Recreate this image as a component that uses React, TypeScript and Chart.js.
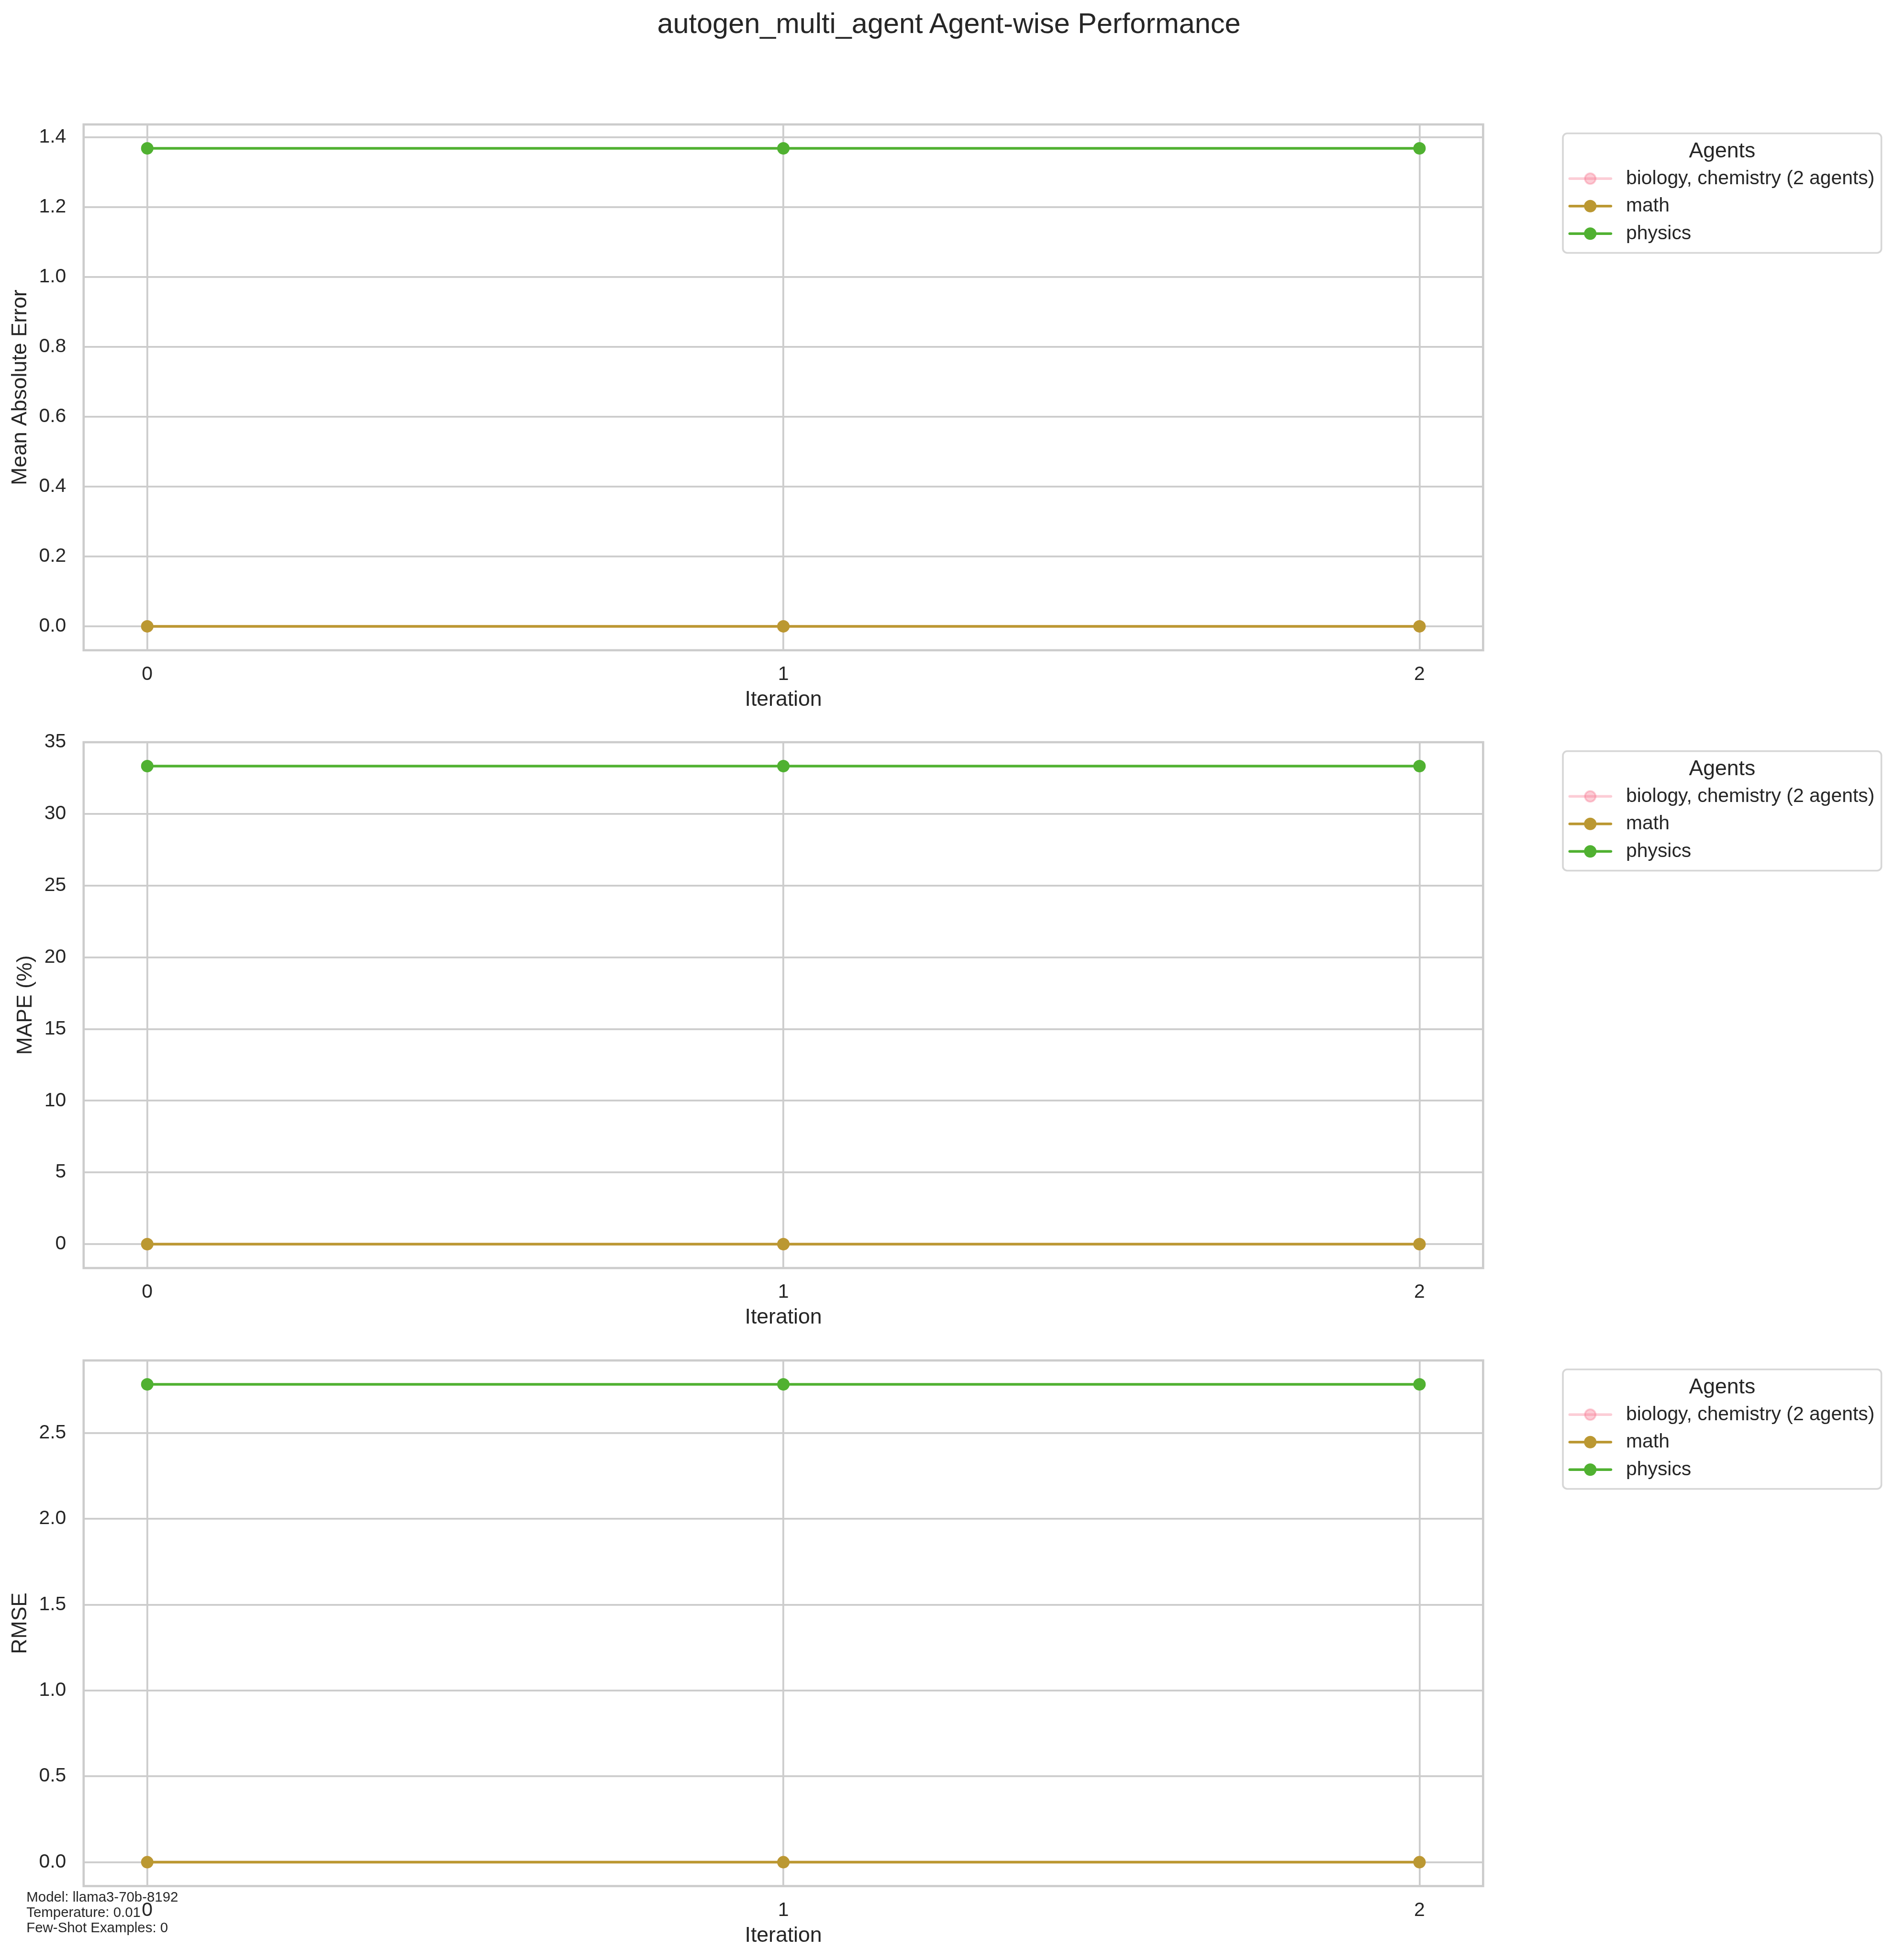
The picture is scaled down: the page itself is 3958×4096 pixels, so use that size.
import React, { useEffect, useRef } from "react";
import { Chart, registerables } from "chart.js";

Chart.register(...registerables);

// ---------- scale & style ----------
const S = 3958 / 4439;
const W = 3958;
const FONT = "'Liberation Sans', Arial, Helvetica, sans-serif";
const TEXT = "#262626";
const GRID = "#cccccc";

// ---------- data ----------
const iterations = [0, 1, 2];
const agents = ["biology, chemistry (2 agents)", "math", "physics"];
const agentColors = ["rgba(247,113,137,0.35)", "#bb9832", "#50b131"];

const maeBiology = [0, 0, 0];
const maeMath = [0, 0, 0];
const maePhysics = [1.368, 1.368, 1.368];

const mapeBiology = [0, 0, 0];
const mapeMath = [0, 0, 0];
const mapePhysics = [33.33, 33.33, 33.33];

const rmseBiology = [0, 0, 0];
const rmseMath = [0, 0, 0];
const rmsePhysics = [2.783, 2.783, 2.783];

const xTicks = [0, 1, 2];
const xTickLabels = ["0", "1", "2"];
const maeTicks = [0, 0.2, 0.4, 0.6, 0.8, 1.0, 1.2, 1.4];
const maeTickLabels = ["0.0", "0.2", "0.4", "0.6", "0.8", "1.0", "1.2", "1.4"];
const mapeTicks = [0, 5, 10, 15, 20, 25, 30, 35];
const mapeTickLabels = ["0", "5", "10", "15", "20", "25", "30", "35"];
const rmseTicks = [0, 0.5, 1.0, 1.5, 2.0, 2.5];
const rmseTickLabels = ["0.0", "0.5", "1.0", "1.5", "2.0", "2.5"];

const footnote = ["Model: llama3-70b-8192", "Temperature: 0.01", "Few-Shot Examples: 0"];

// ---------- geometry (reference px) ----------
const PANEL_LEFT = 196;
const PANEL_RIGHT = 3476;
const PANEL_H = 1233;

type PanelProps = {
  top: number;
  series: number[][];
  ticks: number[];
  tickLabels: string[];
  yTitle: string;
  yTitleCenter: number;
};

const legendPlugin = {
  id: "aglegend",
  afterDraw(chart: any) {
    const ctx = chart.ctx as CanvasRenderingContext2D;
    const ca = chart.chartArea;
    const bx = ca.right + 166.7;
    const by = ca.top + 18.7;
    const bw = 665.6;
    const bh = 249.7;
    const r = 9;
    ctx.save();
    ctx.beginPath();
    ctx.moveTo(bx + r, by);
    ctx.lineTo(bx + bw - r, by);
    ctx.arcTo(bx + bw, by, bx + bw, by + r, r);
    ctx.lineTo(bx + bw, by + bh - r);
    ctx.arcTo(bx + bw, by + bh, bx + bw - r, by + bh, r);
    ctx.lineTo(bx + r, by + bh);
    ctx.arcTo(bx, by + bh, bx, by + bh - r, r);
    ctx.lineTo(bx, by + r);
    ctx.arcTo(bx, by, bx + r, by, r);
    ctx.closePath();
    ctx.fillStyle = "rgba(255,255,255,0.8)";
    ctx.fill();
    ctx.strokeStyle = "rgba(204,204,204,0.8)";
    ctx.lineWidth = 3.6;
    ctx.stroke();

    ctx.fillStyle = TEXT;
    ctx.font = `${50 * S}px ${FONT}`;
    ctx.textAlign = "center";
    ctx.textBaseline = "alphabetic";
    ctx.fillText("Agents", bx + bw / 2, ca.top + 68.7);

    const rows = [113.2, 170.7, 228.2];
    agents.forEach((name, i) => {
      const y = ca.top + rows[i];
      const c = agentColors[i];
      ctx.strokeStyle = c;
      ctx.lineWidth = 1.5 * (300 / 72) * S;
      ctx.lineCap = "round";
      ctx.beginPath();
      ctx.moveTo(bx + 14.3, y);
      ctx.lineTo(bx + 100.3, y);
      ctx.stroke();
      ctx.beginPath();
      ctx.arc(bx + 57.2, y, 11.14, 0, Math.PI * 2);
      ctx.fillStyle = c;
      ctx.fill();
      ctx.lineWidth = 3.7;
      ctx.strokeStyle = c;
      ctx.stroke();
      ctx.fillStyle = TEXT;
      ctx.font = `${45.83 * S}px ${FONT}`;
      ctx.textAlign = "left";
      ctx.textBaseline = "middle";
      ctx.fillText(name, bx + 132, y);
    });
    ctx.restore();
  },
};

const framePlugin = {
  id: "agframe",
  beforeDatasetsDraw(chart: any) {
    const ctx = chart.ctx as CanvasRenderingContext2D;
    const ca = chart.chartArea;
    ctx.save();
    ctx.strokeStyle = GRID;
    ctx.lineWidth = 1.25 * (300 / 72) * S;
    ctx.strokeRect(ca.left, ca.top, ca.right - ca.left, ca.bottom - ca.top);
    ctx.restore();
  },
};

function Panel({ top, series, ticks, tickLabels, yTitle, yTitleCenter }: PanelProps) {
  const ref = useRef<HTMLCanvasElement | null>(null);

  const topT = top * S;
  const bandTop = Math.floor(topT - 60);
  const padTop = topT - bandTop;
  const h = PANEL_H * S;
  const bandH = Math.ceil(padTop + h + 140);
  const xAxisH = bandH - padTop - h;
  const titleLH = 50 * S * 1.2;
  const xTitlePadBottom = bandH - (padTop + h + 116.5 * S) - titleLH / 2;
  const yTitlePadTop = yTitleCenter * S - titleLH / 2;

  useEffect(() => {
    if (!ref.current) return;
    const all = series.flat();
    const lo = Math.min(...all);
    const hi = Math.max(...all);
    const m = 0.05 * (hi - lo);
    const tickFont = { family: FONT, size: 45.83 * S, lineHeight: 1.2 };
    const titleFont = { family: FONT, size: 50 * S, lineHeight: 1.2 };
    const chart = new Chart(ref.current, {
      type: "line",
      data: {
        datasets: series.map((vals, i) => ({
          label: agents[i],
          data: iterations.map((x, k) => ({ x, y: vals[k] })),
          borderColor: agentColors[i],
          backgroundColor: agentColors[i],
          pointBackgroundColor: agentColors[i],
          pointBorderColor: agentColors[i],
          borderWidth: 1.5 * (300 / 72) * S,
          pointRadius: 11.14,
          pointBorderWidth: 3.7,
          tension: 0,
          fill: false,
          order: series.length - i,
        })),
      },
      options: {
        responsive: false,
        maintainAspectRatio: false,
        animation: false,
        events: [],
        layout: {
          autoPadding: false,
          padding: { left: 0, top: padTop, right: W - PANEL_RIGHT * S, bottom: 0 },
        },
        plugins: {
          legend: { display: false },
          tooltip: { enabled: false },
          title: { display: false },
        },
        scales: {
          x: {
            type: "linear",
            min: -0.1,
            max: 2.1,
            afterBuildTicks: (s: any) => {
              s.ticks = xTicks.map((v) => ({ value: v }));
            },
            afterFit: (s: any) => {
              s.height = xAxisH;
            },
            grid: { color: GRID, lineWidth: 1 * (300 / 72) * S, drawTicks: false },
            border: { display: false },
            ticks: {
              padding: 50.8 - (45.83 * S * 1.2) / 2,
              font: tickFont,
              color: TEXT,
              maxRotation: 0,
              autoSkip: false,
              callback: (v: any) => {
                const idx = xTicks.indexOf(Number(v));
                return idx >= 0 ? xTickLabels[idx] : "";
              },
            },
            title: {
              display: true,
              text: "Iteration",
              font: titleFont,
              color: TEXT,
              padding: { top: 0, bottom: xTitlePadBottom },
            },
          },
          y: {
            type: "linear",
            min: lo - m,
            max: hi + m,
            afterBuildTicks: (s: any) => {
              s.ticks = ticks.map((v) => ({ value: v }));
            },
            afterFit: (s: any) => {
              s.width = PANEL_LEFT * S;
            },
            grid: { color: GRID, lineWidth: 1 * (300 / 72) * S, drawTicks: false },
            border: { display: false },
            ticks: {
              padding: 41 * S,
              font: tickFont,
              color: TEXT,
              autoSkip: false,
              callback: (v: any) => {
                const idx = ticks.indexOf(Number(v));
                return idx >= 0 ? tickLabels[idx] : "";
              },
            },
            title: {
              display: true,
              text: yTitle,
              font: titleFont,
              color: TEXT,
              padding: { top: yTitlePadTop, bottom: 0 },
            },
          },
        },
      } as any,
      plugins: [framePlugin, legendPlugin],
    });
    return () => chart.destroy();
  }, []);

  return (
    <canvas
      ref={ref}
      width={W}
      height={bandH}
      style={{ position: "absolute", left: 0, top: bandTop, width: W, height: bandH }}
    />
  );
}

export default function App() {
  const titleSize = 66.67 * S;
  const noteSize = 33.0 * S;
  const noteLH = 36.3 * S;
  return (
    <div
      style={{
        position: "absolute",
        left: 0,
        top: 0,
        width: W,
        height: 4096,
        background: "#ffffff",
        overflow: "hidden",
        fontFamily: FONT,
        color: TEXT,
      }}
    >
      <Panel
        top={291}
        series={[maeBiology, maeMath, maePhysics]}
        ticks={maeTicks}
        tickLabels={maeTickLabels}
        yTitle="Mean Absolute Error"
        yTitleCenter={47.5}
      />
      <Panel
        top={1739}
        series={[mapeBiology, mapeMath, mapePhysics]}
        ticks={mapeTicks}
        tickLabels={mapeTickLabels}
        yTitle="MAPE (%)"
        yTitleCenter={60.3}
      />
      <Panel
        top={3187.5}
        series={[rmseBiology, rmseMath, rmsePhysics]}
        ticks={rmseTicks}
        tickLabels={rmseTickLabels}
        yTitle="RMSE"
        yTitleCenter={47.5}
      />
      <div
        style={{
          position: "absolute",
          left: 0,
          width: 2224 * S * 2,
          top: 78 * S - 0.8465 * titleSize,
          fontSize: titleSize,
          lineHeight: `${titleSize}px`,
          textAlign: "center",
          whiteSpace: "nowrap",
        }}
      >
        autogen_multi_agent Agent-wise Performance
      </div>
      <div
        style={{
          position: "absolute",
          left: 62 * S,
          top: 4457 * S - ((noteLH - 1.117 * noteSize) / 2 + 0.905 * noteSize),
          fontSize: noteSize,
          lineHeight: `${noteLH}px`,
          whiteSpace: "pre",
        }}
      >
        {footnote.join("\n")}
      </div>
    </div>
  );
}
